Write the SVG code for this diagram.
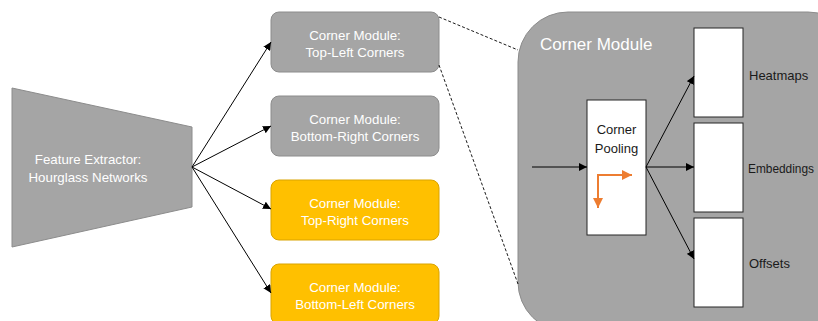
<svg xmlns="http://www.w3.org/2000/svg" width="818" height="321" viewBox="0 0 818 321">
<defs>
<style>
.gray{fill:#a5a5a5;stroke:#8c8c8c;stroke-width:1}
.yel{fill:#ffc000;stroke:#d9a300;stroke-width:1}
.wt{fill:#ffffff;font-family:"Liberation Sans",Arial,sans-serif;font-size:13.3px;text-anchor:middle}
.dk{fill:#1a1a1a;font-family:"Liberation Sans",Arial,sans-serif;font-size:13px}
.wbox{fill:#ffffff;stroke:#262626;stroke-width:1}
.ln{stroke:#000;stroke-width:1;fill:none}
.dash{stroke:#000;stroke-width:0.9;fill:none;stroke-dasharray:3,2}
.or{stroke:#ed7d31;stroke-width:2;fill:none}
</style>
<marker id="ah" viewBox="0 0 10 10" refX="10" refY="5" markerWidth="8" markerHeight="8" markerUnits="userSpaceOnUse" orient="auto">
<path d="M0,0 L10,5 L0,10 z" fill="#000"/>
</marker>
<marker id="oh" viewBox="0 0 10 10" refX="10" refY="5" markerWidth="5" markerHeight="5" orient="auto">
<path d="M0,0 L10,5 L0,10 z" fill="#ed7d31"/>
</marker>
</defs>

<g id="feature-extractor">
<polygon class="gray" points="12,88 192,127 192,207 12,247"/>
<text class="wt" x="88" y="164">Feature Extractor:</text>
<text class="wt" x="88" y="182">Hourglass Networks</text>
</g>

<g id="cm-top-left">
<rect class="gray" x="271" y="12" width="168" height="60" rx="8"/>
<text class="wt" x="355" y="40">Corner Module:</text>
<text class="wt" x="355" y="57">Top-Left Corners</text>
</g>
<g id="cm-bottom-right">
<rect class="gray" x="271" y="96" width="168" height="60" rx="8"/>
<text class="wt" x="355" y="124">Corner Module:</text>
<text class="wt" x="355" y="141">Bottom-Right Corners</text>
</g>
<g id="cm-top-right">
<rect class="yel" x="271" y="180" width="168" height="60" rx="8"/>
<text class="wt" x="355" y="208">Corner Module:</text>
<text class="wt" x="355" y="225">Top-Right Corners</text>
</g>
<g id="cm-bottom-left">
<rect class="yel" x="271" y="264" width="168" height="60" rx="8"/>
<text class="wt" x="355" y="292">Corner Module:</text>
<text class="wt" x="355" y="309">Bottom-Left Corners</text>
</g>

<g id="corner-module-detail">
<rect class="gray" x="518" y="12" width="340" height="320" rx="50"/>
<text x="540" y="50" fill="#ffffff" font-family="Liberation Sans,Arial,sans-serif" font-size="17">Corner Module</text>
</g>

<g id="corner-pooling">
<rect class="wbox" x="587" y="100" width="59" height="135"/>
<text class="dk" x="616.5" y="134" text-anchor="middle">Corner</text>
<text class="dk" x="616.5" y="153" text-anchor="middle">Pooling</text>
<path class="or" d="M598,174 V208" marker-end="url(#oh)"/>
<path class="or" d="M597,175 H632" marker-end="url(#oh)"/>
</g>

<g id="heatmaps">
<rect class="wbox" x="694" y="28" width="49" height="89"/>
<text class="dk" x="749" y="80">Heatmaps</text>
</g>
<g id="embeddings">
<rect class="wbox" x="694" y="123" width="49" height="89"/>
<text class="dk" x="748" y="173" textLength="66" lengthAdjust="spacingAndGlyphs">Embeddings</text>
</g>
<g id="offsets">
<rect class="wbox" x="694" y="218" width="49" height="89"/>
<text class="dk" x="749" y="268">Offsets</text>
</g>

<g id="connectors">
<line class="ln" x1="192" y1="167" x2="271" y2="42" marker-end="url(#ah)"/>
<line class="ln" x1="192" y1="167" x2="271" y2="126" marker-end="url(#ah)"/>
<line class="ln" x1="192" y1="167" x2="271" y2="209" marker-end="url(#ah)"/>
<line class="ln" x1="192" y1="167" x2="271" y2="293" marker-end="url(#ah)"/>
<line class="dash" x1="439" y1="17" x2="518" y2="50"/>
<line class="dash" x1="439" y1="65" x2="518" y2="284"/>
<line class="ln" x1="532" y1="167" x2="587" y2="167" marker-end="url(#ah)"/>
<line class="ln" x1="646" y1="167" x2="694" y2="76" marker-end="url(#ah)"/>
<line class="ln" x1="646" y1="167" x2="694" y2="167" marker-end="url(#ah)"/>
<line class="ln" x1="646" y1="167" x2="694" y2="259" marker-end="url(#ah)"/>
</g>
</svg>
